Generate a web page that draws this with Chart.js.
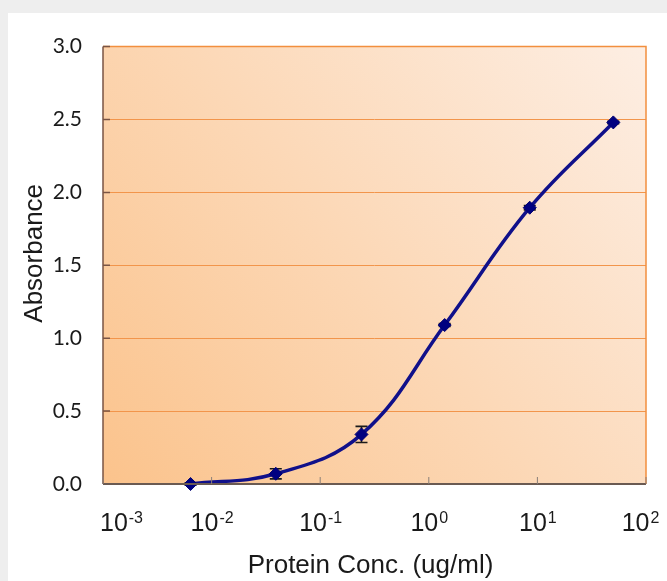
<!DOCTYPE html>
<html>
<head>
<meta charset="utf-8">
<title>Absorbance vs Protein Conc.</title>
<script src="https://cdn.jsdelivr.net/npm/chart.js@4.4.1/dist/chart.umd.min.js"></script>
<style>
  html, body { margin: 0; padding: 0; background: #eeeeee; }
  #card { position: absolute; left: 8px; top: 13px; width: 659px; height: 568px; background: #ffffff; }
</style>
</head>
<body>
<div id="card"><canvas id="chart" width="659" height="568"></canvas></div>
<script>
// Data
const concentration = [0.0064, 0.039, 0.24, 1.4, 8.5, 50];   // ug/ml
const absorbance = [0.00, 0.07, 0.34, 1.09, 1.895, 2.48];
const errors = [0.008, 0.035, 0.055, 0.01, 0.015, 0.008];

const xTicks = [0.001, 0.01, 0.1, 1, 10, 100];
const xTickExponents = ['-3', '-2', '-1', '0', '1', '2'];
const yTicks = [0, 0.5, 1.0, 1.5, 2.0, 2.5, 3.0];

const xTitle = 'Protein Conc. (ug/ml)';
const yTitle = 'Absorbance';

// Background gradient, error bars, frame, inward ticks and x labels
const plotFrame = {
    id: 'plotFrame',
    beforeDraw(chart) {
        const { ctx, chartArea: a } = chart;
        const g = ctx.createLinearGradient(a.left, a.bottom, a.right, a.top);
        g.addColorStop(0, '#fbc38c');
        g.addColorStop(1, '#fdeee3');
        ctx.save();
        ctx.fillStyle = g;
        ctx.fillRect(a.left, a.top, a.right - a.left, a.bottom - a.top);
        ctx.restore();
    },
    beforeDatasetsDraw(chart) {
        const { ctx } = chart;
        const xs = chart.scales.x, ys = chart.scales.y;
        ctx.save();
        ctx.strokeStyle = '#1a1a1a';
        ctx.lineWidth = 1.6;
        concentration.forEach((c, i) => {
            const x = xs.getPixelForValue(c);
            const yTop = ys.getPixelForValue(absorbance[i] + errors[i]);
            const yBot = ys.getPixelForValue(absorbance[i] - errors[i]);
            ctx.beginPath();
            ctx.moveTo(x, yTop); ctx.lineTo(x, yBot);
            ctx.moveTo(x - 6, yTop); ctx.lineTo(x + 6, yTop);
            ctx.moveTo(x - 6, yBot); ctx.lineTo(x + 6, yBot);
            ctx.stroke();
        });
        ctx.restore();
    },
    afterDraw(chart) {
        const { ctx, chartArea: a } = chart;
        const xs = chart.scales.x, ys = chart.scales.y;
        ctx.save();

        // top + right border (orange)
        ctx.strokeStyle = '#f28f3e';
        ctx.lineWidth = 1.5;
        ctx.beginPath();
        ctx.moveTo(a.left, a.top); ctx.lineTo(a.right, a.top); ctx.lineTo(a.right, a.bottom);
        ctx.stroke();

        // left axis
        ctx.strokeStyle = '#7a5444';
        ctx.lineWidth = 1.5;
        ctx.beginPath();
        ctx.moveTo(a.left, a.top); ctx.lineTo(a.left, a.bottom);
        yTicks.forEach(v => {
            const y = ys.getPixelForValue(v);
            ctx.moveTo(a.left, y); ctx.lineTo(a.left + 7, y);
        });
        ctx.stroke();

        // bottom axis
        ctx.strokeStyle = '#6a5a52';
        ctx.lineWidth = 1.8;
        ctx.beginPath();
        ctx.moveTo(a.left, a.bottom); ctx.lineTo(a.right, a.bottom);
        ctx.stroke();
        ctx.lineWidth = 1;
        ctx.strokeStyle = '#8a7f78';
        ctx.beginPath();
        xTicks.forEach(v => {
            const x = xs.getPixelForValue(v);
            ctx.moveTo(x, a.bottom); ctx.lineTo(x, a.bottom - 7);
        });
        ctx.stroke();

        // x tick labels: 10 with superscript exponent
        ctx.fillStyle = '#1a1a1a';
        ctx.textBaseline = 'alphabetic';
        xTicks.forEach((v, i) => {
            const base = '10', exp = xTickExponents[i];
            ctx.font = '25px "Liberation Sans", Arial, sans-serif';
            const wb = ctx.measureText(base).width;
            ctx.font = '16px "Liberation Sans", Arial, sans-serif';
            const we = ctx.measureText(exp).width;
            let cx = xs.getPixelForValue(v);
            cx = Math.min(Math.max(cx, a.left + 18), a.right - 6);
            const x0 = cx - (wb + we) / 2;
            ctx.textAlign = 'left';
            ctx.font = '25px "Liberation Sans", Arial, sans-serif';
            ctx.fillText(base, x0, a.bottom + 47);
            ctx.font = '16px "Liberation Sans", Arial, sans-serif';
            ctx.fillText(exp, x0 + wb + 1, a.bottom + 39);
        });

        // axis titles
        ctx.font = '26px "Liberation Sans", Arial, sans-serif';
        ctx.textAlign = 'center';
        ctx.textBaseline = 'middle';
        ctx.fillText(xTitle, (a.left + a.right) / 2 - 4, a.bottom + 82);
        ctx.translate(27, (a.top + a.bottom) / 2 - 12);
        ctx.rotate(-Math.PI / 2);
        ctx.fillText(yTitle, 0, 0);
        ctx.restore();
    }
};

new Chart(document.getElementById('chart'), {
    type: 'scatter',
    data: {
        datasets: [{
            label: 'Absorbance',
            data: concentration.map((c, i) => ({ x: c, y: absorbance[i] })),
            showLine: true,
            borderColor: '#10108a',
            backgroundColor: '#000080',
            borderWidth: 3.5,
            tension: 0.4,
            pointStyle: 'rectRot',
            pointRadius: 6.5,
            pointBorderWidth: 1,
            pointBorderColor: '#000070',
            clip: false
        }]
    },
    options: {
        responsive: false,
        animation: false,
        layout: { padding: { left: 0, top: 31, right: 21, bottom: 0 } },
        plugins: {
            legend: { display: false },
            tooltip: { enabled: false }
        },
        scales: {
            x: {
                type: 'logarithmic',
                min: 0.001,
                max: 100,
                afterBuildTicks: scale => { scale.ticks = xTicks.map(v => ({ value: v })); },
                afterFit: scale => { scale.height = 97; },
                ticks: { display: false },
                grid: { display: false },
                border: { display: false }
            },
            y: {
                min: 0,
                max: 3,
                afterBuildTicks: scale => { scale.ticks = yTicks.map(v => ({ value: v })); },
                afterFit: scale => { scale.width = 95; },
                ticks: {
                    padding: 21,
                    color: '#1a1a1a',
                    font: { family: 'Lato, "Open Sans", sans-serif', size: 21 },
                    callback: v => Number(v).toFixed(1)
                },
                grid: { color: '#f2954b', lineWidth: 1, drawTicks: false },
                border: { display: false }
            }
        }
    },
    plugins: [plotFrame]
});
</script>
</body>
</html>
